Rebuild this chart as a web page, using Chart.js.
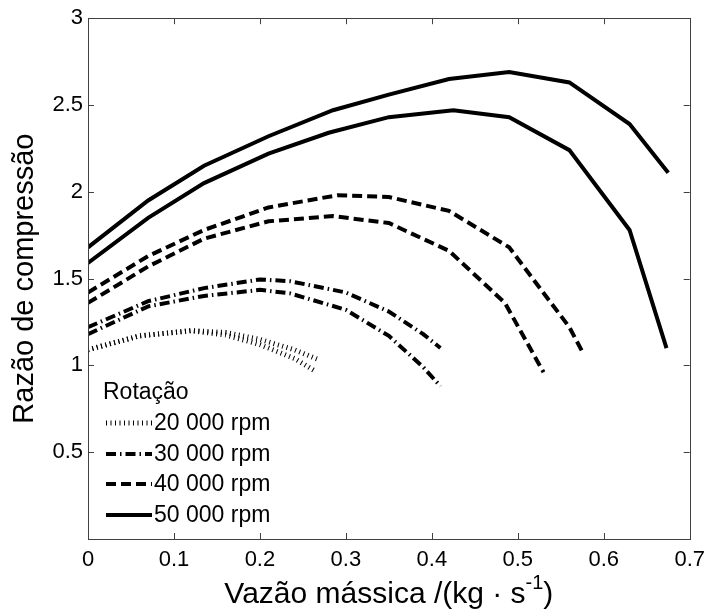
<!DOCTYPE html>
<html>
<head>
<meta charset="utf-8">
<script src="https://cdn.jsdelivr.net/npm/chart.js@4"></script>
<style>
  html, body { margin: 0; padding: 0; background: #fff; }
  #wrap { width: 713px; height: 615px; }
</style>
</head>
<body>
<div id="wrap"><canvas id="compressorMap" width="713" height="615"></canvas></div>
<script>
// mass flow (kg/s) vs pressure ratio, two curves per speed line
const rpmLabels = ['20 000 rpm', '30 000 rpm', '40 000 rpm', '50 000 rpm'];
const xTicks = [0, 0.1, 0.2, 0.3, 0.4, 0.5, 0.6, 0.7];
const yTicks = [0.5, 1, 1.5, 2, 2.5, 3];

const rpm20a = [[0, 1.09], [0.06, 1.17], [0.12, 1.20], [0.16, 1.19], [0.2, 1.15], [0.24, 1.09], [0.27, 1.03]];
const rpm20b = [[0, 1.09], [0.06, 1.17], [0.12, 1.20], [0.16, 1.175], [0.2, 1.12], [0.24, 1.04], [0.265, 0.965]];
const rpm30a = [[0, 1.22], [0.07, 1.37], [0.135, 1.445], [0.2, 1.495], [0.235, 1.485], [0.3, 1.42], [0.35, 1.31], [0.39, 1.18], [0.41, 1.10]];
const rpm30b = [[0, 1.18], [0.07, 1.34], [0.135, 1.40], [0.2, 1.435], [0.235, 1.415], [0.3, 1.32], [0.35, 1.17], [0.39, 0.99], [0.41, 0.88]];
const rpm40a = [[0, 1.42], [0.07, 1.63], [0.135, 1.78], [0.21, 1.91], [0.29, 1.98], [0.35, 1.97], [0.42, 1.89], [0.49, 1.68], [0.56, 1.22], [0.575, 1.08]];
const rpm40b = [[0, 1.36], [0.07, 1.57], [0.135, 1.73], [0.21, 1.83], [0.285, 1.86], [0.35, 1.82], [0.42, 1.66], [0.485, 1.36], [0.53, 0.96]];
const rpm50a = [[0, 1.68], [0.07, 1.95], [0.135, 2.15], [0.21, 2.32], [0.285, 2.47], [0.35, 2.56], [0.42, 2.65], [0.49, 2.69], [0.56, 2.63], [0.63, 2.39], [0.675, 2.11]];
const rpm50b = [[0, 1.59], [0.07, 1.85], [0.135, 2.05], [0.21, 2.22], [0.28, 2.34], [0.35, 2.43], [0.425, 2.47], [0.49, 2.43], [0.56, 2.24], [0.63, 1.78], [0.673, 1.10]];

// line style per speed (matlab-ish :, -., --, -)
const styles = [
  { width: 5, dash: [1, 3.5] },
  { width: 4, dash: [10, 4, 1.5, 4] },
  { width: 4, dash: [10, 5] },
  { width: 4, dash: [] }
];

const AXIS_COLOR = '#404040';
const FONT = '"Liberation Sans", Arial, sans-serif';

function toPts(arr) {
  return arr.map(function (p) { return { x: p[0], y: p[1] }; });
}

function mkSet(arr, idx) {
  var s = styles[idx];
  return {
    label: rpmLabels[idx],
    data: toPts(arr),
    borderColor: '#000',
    borderWidth: s.width,
    borderDash: s.dash,
    borderCapStyle: 'butt',
    pointRadius: 0,
    tension: 0,
    fill: false
  };
}

// box, inward ticks, legend and x title
const matlabAxes = {
  id: 'matlabAxes',
  afterDatasetsDraw: function (chart) {
    var ctx = chart.ctx;
    var a = chart.chartArea;
    var xs = chart.scales.x, ys = chart.scales.y;
    var tl = 6;
    ctx.save();
    ctx.strokeStyle = AXIS_COLOR;
    ctx.lineWidth = 1;
    ctx.setLineDash([]);
    ctx.strokeRect(Math.round(a.left) + 0.5, Math.round(a.top) + 0.5,
      Math.round(a.right - a.left), Math.round(a.bottom - a.top));
    ctx.beginPath();
    xTicks.forEach(function (v) {
      var px = Math.round(xs.getPixelForValue(v)) + 0.5;
      ctx.moveTo(px, a.bottom); ctx.lineTo(px, a.bottom - tl);
      ctx.moveTo(px, a.top); ctx.lineTo(px, a.top + tl);
    });
    yTicks.forEach(function (v) {
      var py = Math.round(ys.getPixelForValue(v)) + 0.5;
      ctx.moveTo(a.left, py); ctx.lineTo(a.left + tl, py);
      ctx.moveTo(a.right, py); ctx.lineTo(a.right - tl, py);
    });
    ctx.stroke();

    // legend
    ctx.fillStyle = '#000';
    ctx.font = '23px ' + FONT;
    ctx.textBaseline = 'middle';
    ctx.textAlign = 'left';
    ctx.fillText('Rotação', 103, 393);
    var rowY = [423, 454, 484, 515];
    rpmLabels.forEach(function (lab, i) {
      var s = styles[i];
      ctx.save();
      ctx.strokeStyle = '#000';
      ctx.lineWidth = s.width;
      ctx.lineCap = 'butt';
      ctx.setLineDash(s.dash);
      ctx.beginPath();
      ctx.moveTo(106, rowY[i]);
      ctx.lineTo(152, rowY[i]);
      ctx.stroke();
      ctx.restore();
      ctx.fillText(lab, 154, rowY[i] + 1);
    });

    // x title with superscript
    var base = 'Vazão mássica /(kg · s';
    var sup = '-1';
    var tail = ')';
    ctx.font = '30px ' + FONT;
    var w1 = ctx.measureText(base).width;
    var w3 = ctx.measureText(tail).width;
    ctx.font = '20px ' + FONT;
    var w2 = ctx.measureText(sup).width;
    var cx = (a.left + a.right) / 2;
    var x0 = cx - (w1 + w2 + w3) / 2;
    var by = 603;
    ctx.textBaseline = 'alphabetic';
    ctx.font = '30px ' + FONT;
    ctx.fillText(base, x0, by);
    ctx.font = '20px ' + FONT;
    ctx.fillText(sup, x0 + w1, by - 14);
    ctx.font = '30px ' + FONT;
    ctx.fillText(tail, x0 + w1 + w2, by);
    ctx.restore();
  }
};

var ctx = document.getElementById('compressorMap').getContext('2d');
var chart = new Chart(ctx, {
  type: 'line',
  data: {
    datasets: [
      mkSet(rpm20a, 0), mkSet(rpm20b, 0),
      mkSet(rpm30a, 1), mkSet(rpm30b, 1),
      mkSet(rpm40a, 2), mkSet(rpm40b, 2),
      mkSet(rpm50a, 3), mkSet(rpm50b, 3)
    ]
  },
  options: {
    responsive: false,
    animation: false,
    layout: { padding: { top: 18, right: 16, left: 0, bottom: 0 } },
    plugins: {
      legend: { display: false },
      tooltip: { enabled: false }
    },
    scales: {
      x: {
        type: 'linear',
        min: 0,
        max: 0.7,
        afterBuildTicks: function (scale) {
          scale.ticks = xTicks.map(function (v) { return { value: v }; });
        },
        afterFit: function (scale) { scale.height = 76; },
        grid: { display: false, drawTicks: false },
        border: { display: false },
        ticks: {
          color: '#000',
          font: { family: FONT, size: 22 },
          padding: 8,
          maxRotation: 0,
          callback: function (v) { return String(Math.round(v * 10) / 10); }
        }
      },
      y: {
        type: 'linear',
        min: 0,
        max: 3,
        afterBuildTicks: function (scale) {
          scale.ticks = yTicks.map(function (v) { return { value: v }; });
        },
        afterFit: function (scale) { scale.width = 88; },
        grid: { display: false, drawTicks: false },
        border: { display: false },
        title: {
          display: true,
          text: 'Razão de compressão',
          color: '#000',
          font: { family: FONT, size: 29 },
          padding: { top: 8, bottom: 0 }
        },
        ticks: {
          color: '#000',
          font: { family: FONT, size: 22 },
          padding: 5,
          callback: function (v) { return String(v); }
        }
      }
    }
  },
  plugins: [matlabAxes]
});
</script>
</body>
</html>
